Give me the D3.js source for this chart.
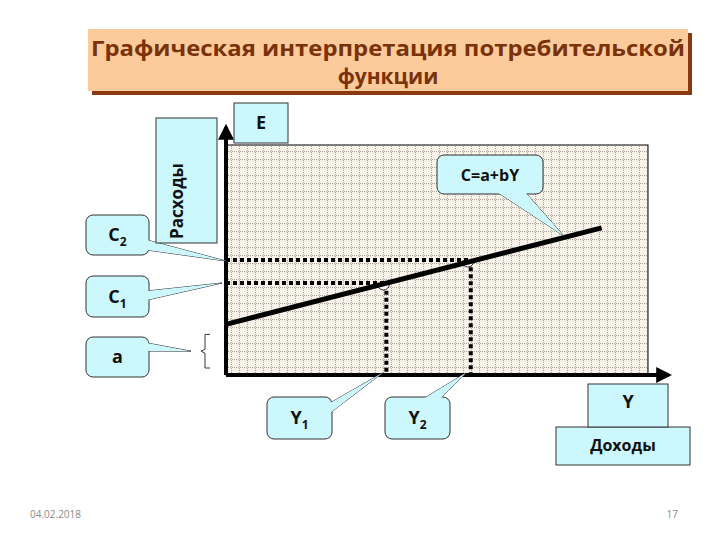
<!DOCTYPE html>
<html><head><meta charset="utf-8">
<script src="https://cdn.jsdelivr.net/npm/d3@7"></script>
<style>html,body{margin:0;padding:0;background:#fff;}</style>
</head><body>
<script>
// ---- data ----
const titleLines = ["Графическая интерпретация потребительской", "функции"];
const lineIncome = [0, 89];       // Y values of the consumption line ends
const lineConsumption = [22, 64]; // C values of the consumption line ends
const incomeMarks = [38, 58];     // Y1, Y2
const consumptionMarks = [40, 50];// C1, C2
const incomeLabels = ["Y1", "Y2"];
const consumptionLabels = ["C1", "C2"];
const interceptLabel = "a";
const interceptValue = 22;
const formulaLabel = "C=a+bY";
const yAxisLabel = "Расходы", yAxisSym = "E";
const xAxisLabel = "Доходы", xAxisSym = "Y";
const footerDate = "04.02.2018", footerPage = "17";

const W = 720, H = 540;
const svg = d3.select("body").append("svg").attr("width", W).attr("height", H)
  .style("font-family", "'Open Sans', 'DejaVu Sans', sans-serif");

const x = d3.scaleLinear().domain([0, 100]).range([226, 648]);
const y = d3.scaleLinear().domain([0, 100]).range([375, 145]);

const defs = svg.append("defs");
const pat = defs.append("pattern").attr("id", "grid").attr("patternUnits", "userSpaceOnUse")
  .attr("width", 8).attr("height", 8);
pat.append("rect").attr("width", 8).attr("height", 8).attr("fill", "#f9f2e8");
for (let i = 0; i < 8; i += 2) {
  pat.append("rect").attr("x", i).attr("y", 7).attr("width", 1).attr("height", 1).attr("fill", "#aaa49c");
  pat.append("rect").attr("x", 7).attr("y", i).attr("width", 1).attr("height", 1).attr("fill", "#aaa49c");
}
defs.append("marker").attr("id", "arr").attr("viewBox", "0 0 10 10").attr("refX", 8).attr("refY", 5)
  .attr("markerWidth", 4).attr("markerHeight", 4).attr("orient", "auto")
  .append("path").attr("d", "M0,0L10,5L0,10Z").attr("fill", "#000");

// ---- title ----
svg.append("rect").attr("x", 92).attr("y", 33).attr("width", 600).attr("height", 62).attr("fill", "#8a3a10");
svg.append("rect").attr("x", 88).attr("y", 29).attr("width", 600).attr("height", 62).attr("fill", "#fccb9c");
svg.selectAll("text.title").data(titleLines).join("text").attr("class", "title")
  .attr("x", 388).attr("y", (d, i) => 56 + i * 28).attr("text-anchor", "middle")
  .attr("font-size", 21).attr("font-weight", "bold").attr("fill", "#7a3208")
  .attr("textLength", (d, i) => i === 0 ? 594 : null)
  .attr("lengthAdjust", "spacingAndGlyphs")
  .text(d => d);

// ---- plot area ----
svg.append("rect").attr("x", x(0)).attr("y", y(100)).attr("width", x(100) - x(0)).attr("height", y(0) - y(100))
  .attr("fill", "url(#grid)").attr("stroke", "#000").attr("stroke-width", 1);

// axes
svg.append("line").attr("x1", x(0)).attr("y1", y(0)).attr("x2", x(0)).attr("y2", 127)
  .attr("stroke", "#000").attr("stroke-width", 4).attr("marker-end", "url(#arr)");
svg.append("line").attr("x1", x(0)).attr("y1", y(0)).attr("x2", 669).attr("y2", y(0))
  .attr("stroke", "#000").attr("stroke-width", 4).attr("marker-end", "url(#arr)");

// dotted guides
incomeMarks.forEach((v, i) => {
  const c = consumptionMarks[i];
  svg.append("path").attr("d", `M${x(0)},${y(c)}H${x(v)}V${y(0)}`)
    .attr("fill", "none").attr("stroke", "#000").attr("stroke-width", 4).attr("stroke-dasharray", "4,3");
  svg.append("path").attr("d", d3.arc()({innerRadius: 0, outerRadius: 6, startAngle: Math.PI / 2, endAngle: Math.PI * 1.5}))
    .attr("transform", `translate(${x(v) - 3},${y(c) + 1})`)
    .attr("fill", "#fff").attr("stroke", "#000").attr("stroke-width", 0.8);
});

// consumption line
const line = d3.line().x(d => x(d[0])).y(d => y(d[1]));
svg.append("path").datum(d3.zip(lineIncome, lineConsumption)).attr("d", line)
  .attr("fill", "none").attr("stroke", "#000").attr("stroke-width", 5);

// brace for a
const by0 = y(interceptValue) + 10, by1 = y(0) - 7, bx = 205;
const bm = (by0 + by1) / 2;
svg.append("path").attr("d", `M${bx + 5},${by0}H${bx}V${bm - 2}L${bx - 4},${bm}L${bx},${bm + 2}V${by1}H${bx + 5}`)
  .attr("fill", "none").attr("stroke", "#222").attr("stroke-width", 0.9);

// ---- callouts ----
const FILL = "#ccf7fd", STROKE = "#333";
function callout(bx, by, bw, bh, base, tip, label, sub, fs) {
  const g = svg.append("g");
  const tri = `M${base[0][0]},${base[0][1]}L${tip[0]},${tip[1]}L${base[1][0]},${base[1][1]}Z`;
  g.append("path").attr("d", tri).attr("fill", FILL).attr("stroke", STROKE).attr("stroke-width", 1);
  g.append("rect").attr("x", bx).attr("y", by).attr("width", bw).attr("height", bh).attr("rx", 7)
    .attr("fill", FILL).attr("stroke", STROKE).attr("stroke-width", 1);
  g.append("path").attr("d", tri).attr("fill", FILL);
  const t = g.append("text").attr("x", bx + bw / 2).attr("y", by + bh / 2 + 6).attr("text-anchor", "middle")
    .attr("font-size", fs || 18).attr("font-weight", "bold").attr("fill", "#111");
  t.append("tspan").text(label);
  if (sub) t.append("tspan").attr("font-size", 12).attr("dy", 5).text(sub);
}
callout(86, 215, 63, 40, [[147, 240], [147, 250]], [x(0), y(consumptionMarks[1]) + 1], consumptionLabels[1][0], consumptionLabels[1][1]);
callout(86, 276, 63, 41, [[147, 291], [147, 300]], [x(0) - 4, y(consumptionMarks[0])], consumptionLabels[0][0], consumptionLabels[0][1]);
callout(86, 337, 63, 40, [[147, 343], [147, 351]], [191, bm], interceptLabel, null);
callout(437, 155, 106, 39, [[497, 192], [525, 192]], [x(80), y(61) + 1], formulaLabel, null, 16);
callout(267, 397, 65, 42, [[330, 403], [330, 413]], [x(incomeMarks[0]) - 4, y(0) - 2], incomeLabels[0][0], incomeLabels[0][1]);
callout(385, 397, 65, 42, [[423, 399], [440, 399]], [x(incomeMarks[1]) - 5, y(0) - 2], incomeLabels[1][0], incomeLabels[1][1]);

// axis label boxes
svg.append("rect").attr("x", 156).attr("y", 118).attr("width", 61).attr("height", 125)
  .attr("fill", FILL).attr("stroke", STROKE).attr("stroke-width", 1);
svg.append("text").attr("transform", "translate(183,201) rotate(-90)").attr("text-anchor", "middle")
  .attr("font-size", 17).attr("font-weight", "bold").attr("fill", "#111").text(yAxisLabel);
svg.append("rect").attr("x", 234).attr("y", 103).attr("width", 54).attr("height", 40)
  .attr("fill", FILL).attr("stroke", STROKE).attr("stroke-width", 1);
svg.append("text").attr("x", 261).attr("y", 129).attr("text-anchor", "middle")
  .attr("font-size", 18).attr("font-weight", "bold").attr("fill", "#111").text(yAxisSym);
svg.append("rect").attr("x", 556).attr("y", 427).attr("width", 134).attr("height", 38)
  .attr("fill", FILL).attr("stroke", STROKE).attr("stroke-width", 1);
svg.append("text").attr("x", 623).attr("y", 451).attr("text-anchor", "middle")
  .attr("font-size", 16).attr("font-weight", "bold").attr("fill", "#111").text(xAxisLabel);
svg.append("rect").attr("x", 588).attr("y", 384).attr("width", 80).attr("height", 43)
  .attr("fill", FILL).attr("stroke", STROKE).attr("stroke-width", 1);
svg.append("text").attr("x", 628).attr("y", 408).attr("text-anchor", "middle")
  .attr("font-size", 18).attr("font-weight", "bold").attr("fill", "#111").text(xAxisSym);

// footer
svg.append("text").attr("x", 30).attr("y", 518).attr("font-size", 10).attr("fill", "#8a8a8a").text(footerDate);
svg.append("text").attr("x", 678).attr("y", 518).attr("text-anchor", "end").attr("font-size", 10).attr("fill", "#8a8a8a").text(footerPage);
</script>
</body></html>
